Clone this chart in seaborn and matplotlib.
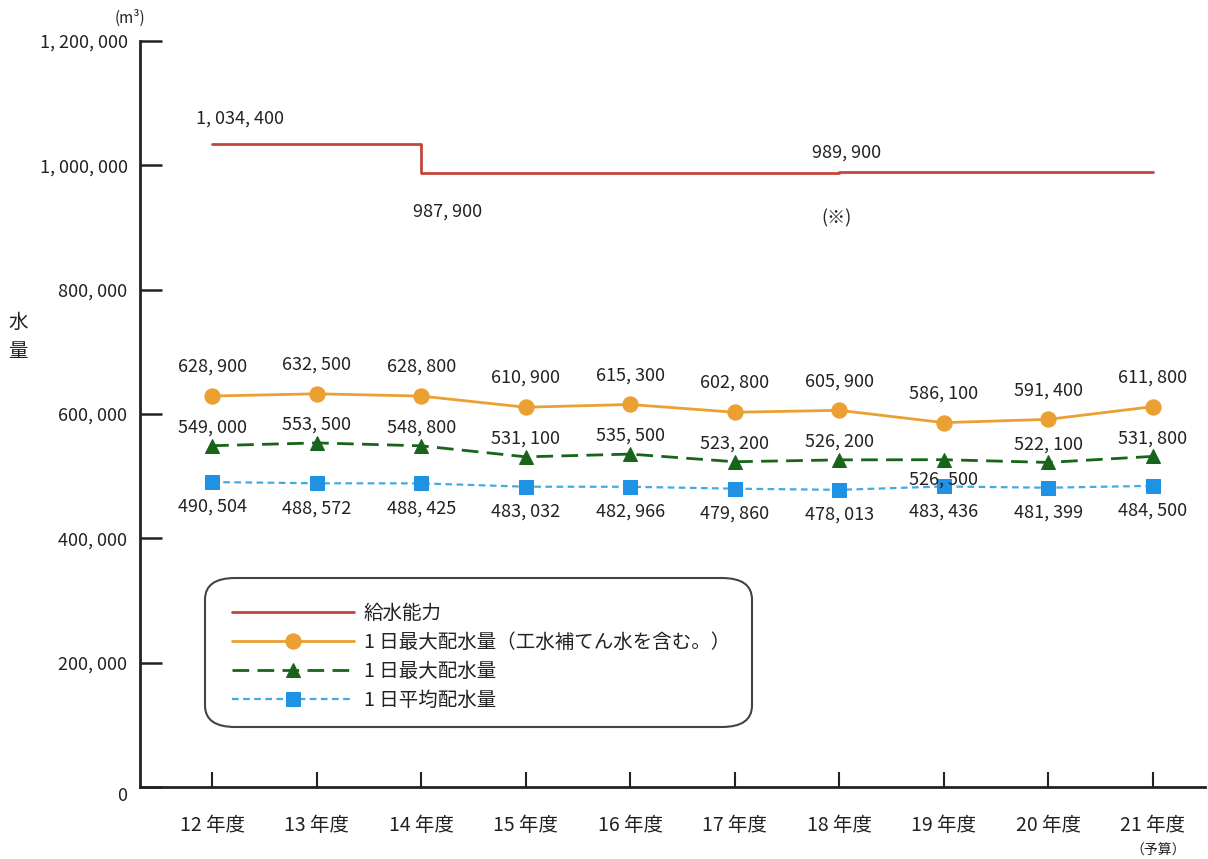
import numpy as np
import matplotlib
matplotlib.use("Agg")
import matplotlib.pyplot as plt
from matplotlib.patches import FancyBboxPatch
import seaborn as sns

sns.set_style("white")
plt.rcParams['font.family'] = ['Noto Sans CJK JP', 'DejaVu Sans']

#%% data
years = ['12 年度', '13 年度', '14 年度', '15 年度', '16 年度',
         '17 年度', '18 年度', '19 年度', '20 年度', '21 年度']
capacity = [1034400, 1034400, 987900, 987900, 987900,
            987900, 989900, 989900, 989900, 989900]
max_incl = [628900, 632500, 628800, 610900, 615300,
            602800, 605900, 586100, 591400, 611800]
max_day = [549000, 553500, 548800, 531100, 535500,
           523200, 526200, 526500, 522100, 531800]
avg_day = [490504, 488572, 488425, 483032, 482966,
           479860, 478013, 483436, 481399, 484500]
yticks = [0, 200000, 400000, 600000, 800000, 1000000, 1200000]
names = ['給水能力', '1 日最大配水量（工水補てん水を含む。）',
         '1 日最大配水量', '1 日平均配水量']

def fmt(v):
    return f"{v:,}".replace(",", ", ")

c_red = '#c4453c'
c_org = '#eba033'
c_grn = '#17641a'
c_blu = '#1f92e4'
c_blu_l = '#45a9e2'
txt = '#222222'

x = np.arange(len(years))

fig = plt.figure(figsize=(12.08, 8.59), dpi=100)
ax = fig.add_axes([140/1208, 72/859, 1065/1208, 746/859])

sns.lineplot(x=x, y=capacity, ax=ax, color=c_red, lw=2,
             drawstyle='steps-post', label=names[0])
sns.lineplot(x=x, y=max_incl, ax=ax, color=c_org, lw=2, marker='o',
             markersize=11, markeredgecolor=c_org, label=names[1])
sns.lineplot(x=x, y=max_day, ax=ax, color=c_grn, lw=2, marker='^',
             markersize=10, markeredgecolor=c_grn, dashes=(6, 3),
             label=names[2])
sns.lineplot(x=x, y=avg_day, ax=ax, color=c_blu_l, lw=1.6, marker='s',
             markersize=10, markerfacecolor=c_blu,
             markeredgecolor=c_blu, dashes=(3, 2), label=names[3])

ax.set_xlim(-0.69, 9.5)
ax.set_ylim(0, 1200000)
ax.set_yticks(yticks)
ax.set_yticklabels([fmt(v) for v in yticks])
ax.set_xticks(x)
ax.set_xticklabels(years)
ax.tick_params(axis='y', left=True, direction='in', length=16, width=1.8,
               pad=9, labelsize=13, labelcolor=txt, color='#222222')
ax.tick_params(axis='x', bottom=True, direction='in', length=11, width=1.5,
               pad=20, labelsize=14, labelcolor=txt, color='#222222')
ax.get_yticklabels()[0].set_va('top')
for s in ['top', 'right']:
    ax.spines[s].set_visible(False)
for s in ['left', 'bottom']:
    ax.spines[s].set_linewidth(2)
    ax.spines[s].set_color('#222222')
ax.text(9.05, -0.085, '（予算）', transform=ax.get_xaxis_transform(),
        ha='center', va='center', fontsize=10, color=txt)

# value labels
def lab(i, v, dy, dx=0):
    ax.annotate(fmt(v), (x[i], v), xytext=(dx, dy), textcoords='offset points',
                ha='center', va='center', fontsize=13, color=txt)

for i in range(len(years)):
    lab(i, max_incl[i], 21)
    lab(i, avg_day[i], -18)
    if i == 7:
        lab(i, max_day[i], -14)
    else:
        lab(i, max_day[i], 13)

lab(0, capacity[0], 18, dx=20)
lab(2, capacity[2], -28, dx=19)
lab(6, capacity[6], 14, dx=5)
ax.annotate('(※)', (x[6], capacity[6]), xytext=(-2, -34),
            textcoords='offset points', ha='center', va='center',
            fontsize=13, color=txt)

# unit and y label
fig.text(130/1208, 1 - 18/859, '(m³)', ha='center', va='center',
         fontsize=11, color=txt)
fig.text(18/1208, 1 - 322/859, '水', ha='center', va='center',
         fontsize=14, color=txt)
fig.text(18/1208, 1 - 352/859, '量', ha='center', va='center',
         fontsize=14, color=txt)

# legend inside rounded box
box = FancyBboxPatch((205/1208, 1 - 727/859), 547/1208, 149/859,
                     boxstyle='round,pad=0,rounding_size=0.025',
                     transform=fig.transFigure, facecolor='white',
                     edgecolor='#444444', lw=1.5, zorder=5, clip_on=False)
ax.add_artist(box)
leg = ax.legend(loc='upper left', bbox_to_anchor=(214/1208, 1 - 585/859),
                bbox_transform=fig.transFigure, frameon=False,
                fontsize=14, handlelength=6.3, handletextpad=0.5,
                labelspacing=0.42, numpoints=1)
leg.set_zorder(6)
for t in leg.get_texts():
    t.set_color(txt)

fig.savefig('out.png', dpi=100)
